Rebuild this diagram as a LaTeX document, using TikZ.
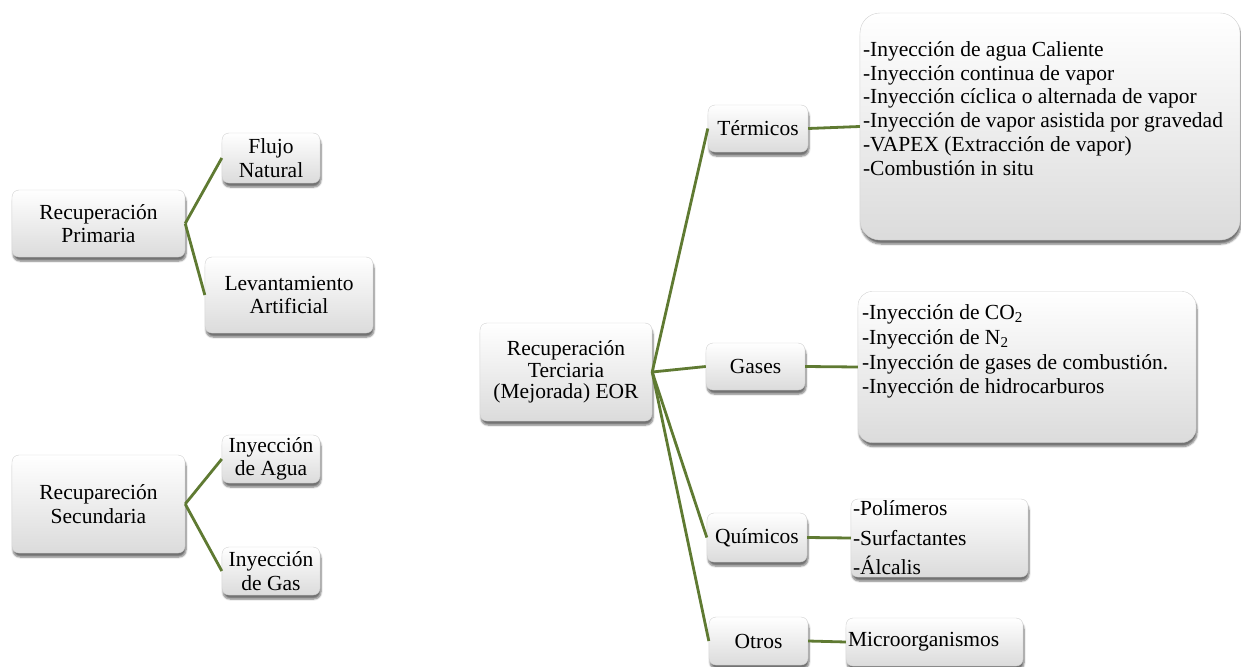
\documentclass[tikz,border=0pt]{standalone}
\usepackage{fontspec}
\setmainfont{Liberation Serif}
\usetikzlibrary{shadows.blur}
\definecolor{linkgreen}{RGB}{95,122,50}
\tikzset{
  box/.style={rectangle, rounded corners=7pt, top color=white, bottom color=black!14,
    draw=black!18, line width=0.4pt,
    blur shadow={shadow xshift=1pt, shadow yshift=-4pt, shadow blur steps=6, shadow opacity=55},
    font=\fontsize{21.5}{23.5}\selectfont, align=center, inner sep=0pt},
  listbox/.style={box, align=left, inner xsep=3pt, inner ysep=0pt},
  % anchored at the baseline of the last line
  listtext/.style={anchor=base west, inner sep=0pt, align=left},
  link/.style={draw=linkgreen, line width=2.8pt}
}
\begin{document}
\begin{tikzpicture}[x=1pt,y=-1pt]
\useasboundingbox (0,0) rectangle (1241,666);

% primary recovery
\node[box, minimum width=173pt, minimum height=67pt] (prim) at (98.5,223.5) {Recuperación\\Primaria};
\node[box, minimum width=98pt, minimum height=50pt] (flujo) at (271,158) {Flujo\\Natural};
\node[box, minimum width=168pt, minimum height=76pt] (levant) at (289,295) {Levantamiento\\Artificial};

% secondary recovery
\node[box, minimum width=173pt, minimum height=98pt] (sec) at (98.5,504) {Recupareción\\Secundaria};
\node[box, minimum width=98pt, minimum height=48pt] (agua) at (271,459) {Inyección\\de Agua};
\node[box, minimum width=98pt, minimum height=48pt] (gas) at (271,571) {Inyección\\de Gas};

% tertiary (enhanced) recovery
\node[box, minimum width=172pt, minimum height=98pt, font=\fontsize{21.5}{21.8}\selectfont] (eor) at (566,372) {Recuperación\\Terciaria\\(Mejorada) EOR};
\node[box, minimum width=100pt, minimum height=47pt] (term) at (758,128.5) {Térmicos};
\node[box, minimum width=99pt, minimum height=47pt] (gases) at (755.5,366.5) {Gases};
\node[box, minimum width=100pt, minimum height=49pt] (quim) at (757,537.5) {Químicos};
\node[box, minimum width=99pt, minimum height=48pt] (otros) at (758.5,641) {Otros};

% method lists: boxes first, then their text
\node[box, rounded corners=20pt, minimum width=380pt, minimum height=227pt] (termlist) at (1050,126.5) {};
\node[listtext, font=\fontsize{21.5}{23.8}\selectfont] (termtext) at ([xshift=3pt,yshift=-162.5pt]termlist.north west)
  {-Inyección de agua Caliente\\
   -Inyección continua de vapor\\
   -Inyección cíclica o alternada de vapor\\
   -Inyección de vapor asistida por gravedad\\
   -VAPEX (Extracción de vapor)\\
   -Combustión in situ};
\node[box, rounded corners=14pt, minimum width=338pt, minimum height=151pt] (gaslist) at (1027,367) {};
\node[listtext, font=\fontsize{21.5}{24.7}\selectfont] (gastext) at ([xshift=4pt,yshift=-102.5pt]gaslist.north west)
  {-Inyección de CO\textsubscript{2}\\
   -Inyección de N\textsubscript{2}\\
   -Inyección de gases de combustión.\\
   -Inyección de hidrocarburos};
\node[listbox, inner xsep=2pt, text width=173pt, minimum height=78pt,
      font=\fontsize{21.5}{29.5}\selectfont] (quimlist) at (939.5,538)
  {-Polímeros\\
   -Surfactantes\\
   -Álcalis};
\node[listbox, inner xsep=2pt, text width=173pt, minimum height=48pt] (micro) at (934.5,642)
  {Microorganismos};

% connectors
\draw[link] (prim.east) -- (flujo.west);
\draw[link] (prim.east) -- (levant.west);
\draw[link] (sec.east) -- (agua.west);
\draw[link] (sec.east) -- (gas.west);
\draw[link] (eor.east) -- (term.west);
\draw[link] (eor.east) -- (gases.west);
\draw[link] (eor.east) -- (quim.west);
\draw[link] (eor.east) -- (otros.west);
\draw[link] (term.east) -- (termlist.west);
\draw[link] (gases.east) -- (gaslist.west);
\draw[link] (quim.east) -- (quimlist.west);
\draw[link] (otros.east) -- (micro.west);
\end{tikzpicture}
\end{document}
